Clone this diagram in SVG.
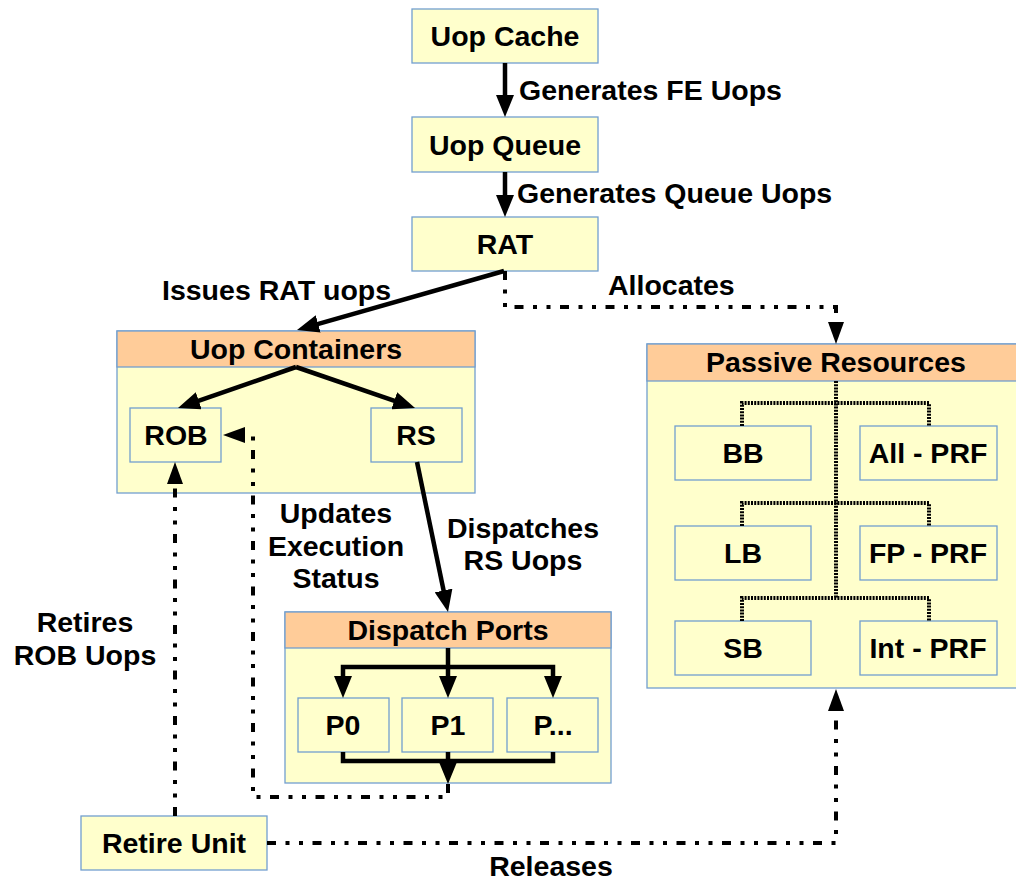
<svg xmlns="http://www.w3.org/2000/svg" width="1016" height="881" viewBox="0 0 1016 881">
<style>
.box{fill:#ffffcc;stroke:#729fcf;stroke-width:1.3}
.hdr{fill:#ffcc99;stroke:#729fcf;stroke-width:1.3}
text{font-family:"Liberation Sans",Arial,sans-serif;font-weight:bold;font-size:28.5px;fill:#000}
.c{text-anchor:middle}
.solid{fill:none;stroke:#000;stroke-width:4.5}
.dd{fill:none;stroke:#000;stroke-width:4;stroke-dasharray:9 9.5 4 9.5 4 9.5}
.fine{fill:none;stroke:#000;stroke-width:4;stroke-dasharray:2 1.2}
</style>
<defs>
<marker id="ah" viewBox="0 0 22 18" refX="8" refY="9" markerWidth="22" markerHeight="18" markerUnits="userSpaceOnUse" orient="auto">
<path d="M0,0 L22,9 L0,18 z" fill="#000"/>
</marker>
<marker id="ahd" viewBox="0 0 22 16" refX="0" refY="8" markerWidth="22" markerHeight="16" markerUnits="userSpaceOnUse" orient="auto">
<path d="M0,0 L22,8 L0,16 z" fill="#000"/>
</marker>
</defs>

<g id="uop-cache"><rect class="box" x="412" y="9" width="186" height="54"/><text class="c" x="505" y="46">Uop Cache</text></g>
<g id="uop-queue"><rect class="box" x="412" y="117" width="186" height="55"/><text class="c" x="505" y="155">Uop Queue</text></g>
<g id="rat"><rect class="box" x="412" y="217" width="186" height="54"/><text class="c" x="505" y="254">RAT</text></g>

<g id="uop-containers">
<rect class="box" x="117" y="331" width="358" height="162"/>
<rect class="hdr" x="117" y="331" width="358" height="36"/>
<text class="c" x="296" y="359">Uop Containers</text>
</g>
<g id="rob"><rect class="box" x="130" y="408" width="91" height="54"/><text class="c" x="176" y="445">ROB</text></g>
<g id="rs"><rect class="box" x="371" y="408" width="91" height="54"/><text class="c" x="416" y="445">RS</text></g>

<g id="passive-resources">
<rect class="box" x="647" y="344" width="380" height="344"/>
<rect class="hdr" x="647" y="344" width="380" height="37"/>
<text class="c" x="836" y="372">Passive Resources</text>
</g>
<g id="bb"><rect class="box" x="675" y="426" width="136" height="54"/><text class="c" x="743" y="463">BB</text></g>
<g id="all-prf"><rect class="box" x="860" y="426" width="137" height="54"/><text class="c" x="928" y="463">All - PRF</text></g>
<g id="lb"><rect class="box" x="675" y="526" width="136" height="54"/><text class="c" x="743" y="563">LB</text></g>
<g id="fp-prf"><rect class="box" x="860" y="526" width="137" height="54"/><text class="c" x="928" y="563">FP - PRF</text></g>
<g id="sb"><rect class="box" x="675" y="621" width="136" height="54"/><text class="c" x="743" y="658">SB</text></g>
<g id="int-prf"><rect class="box" x="860" y="621" width="137" height="54"/><text class="c" x="928" y="658">Int - PRF</text></g>

<g id="dispatch-ports">
<rect class="box" x="285" y="612" width="326" height="171"/>
<rect class="hdr" x="285" y="612" width="326" height="36"/>
<text class="c" x="448" y="640">Dispatch Ports</text>
</g>
<g id="p0"><rect class="box" x="298" y="698" width="91" height="54"/><text class="c" x="343" y="735">P0</text></g>
<g id="p1"><rect class="box" x="402" y="698" width="91" height="54"/><text class="c" x="448" y="735">P1</text></g>
<g id="pn"><rect class="box" x="507" y="698" width="91" height="54"/><text class="c" x="553" y="735">P...</text></g>

<g id="retire-unit"><rect class="box" x="81" y="816" width="186" height="54"/><text class="c" x="174" y="853">Retire Unit</text></g>

<g id="connectors">
<line class="solid" x1="505" y1="63" x2="505" y2="103" marker-end="url(#ah)"/>
<line class="solid" x1="505" y1="172" x2="505" y2="203" marker-end="url(#ah)"/>
<line class="solid" x1="504" y1="271" x2="310.5" y2="326.1" marker-end="url(#ah)"/>
<line class="solid" x1="296" y1="367" x2="191.2" y2="403.4" marker-end="url(#ah)"/>
<line class="solid" x1="296" y1="367" x2="401.8" y2="403.4" marker-end="url(#ah)"/>
<line class="solid" x1="417" y1="462" x2="445.2" y2="598.3" marker-end="url(#ah)"/>
<line class="solid" x1="448" y1="648" x2="448" y2="684" marker-end="url(#ah)"/>
<polyline class="solid" points="343,684 343,667 553,667 553,684"/>
<line class="solid" x1="343" y1="680" x2="343" y2="684" marker-end="url(#ah)"/>
<line class="solid" x1="553" y1="680" x2="553" y2="684" marker-end="url(#ah)"/>
<polyline class="solid" points="343,752 343,761 553,761 553,752"/>
<line class="solid" x1="448" y1="752" x2="448" y2="770" marker-end="url(#ah)"/>

<polyline class="dd" points="505,271 505,307 836,307 836,322" marker-end="url(#ahd)"/>
<polyline class="dd" points="448,784 448,797 253,797 253,435 245,435" marker-end="url(#ahd)"/>
<line class="dd" x1="175" y1="816" x2="175" y2="484" marker-end="url(#ahd)"/>
<polyline class="dd" points="267,843 836,843 836,711" marker-end="url(#ahd)"/>

<polyline class="fine" points="836,381 836,598"/>
<polyline class="fine" points="742,426 742,403 929,403 929,426"/>
<polyline class="fine" points="742,526 742,503 929,503 929,526"/>
<polyline class="fine" points="742,621 742,598 929,598 929,621"/>
</g>

<g id="labels">
<text x="519" y="100">Generates FE Uops</text>
<text x="517" y="203">Generates Queue Uops</text>
<text x="162" y="300">Issues RAT uops</text>
<text x="608" y="295">Allocates</text>
<text class="c" x="336" y="523">Updates</text>
<text class="c" x="336" y="556">Execution</text>
<text class="c" x="336" y="588">Status</text>
<text class="c" x="523" y="538">Dispatches</text>
<text class="c" x="523" y="570">RS Uops</text>
<text class="c" x="85" y="632">Retires</text>
<text class="c" x="85" y="665">ROB Uops</text>
<text class="c" x="551" y="876">Releases</text>
</g>
</svg>
